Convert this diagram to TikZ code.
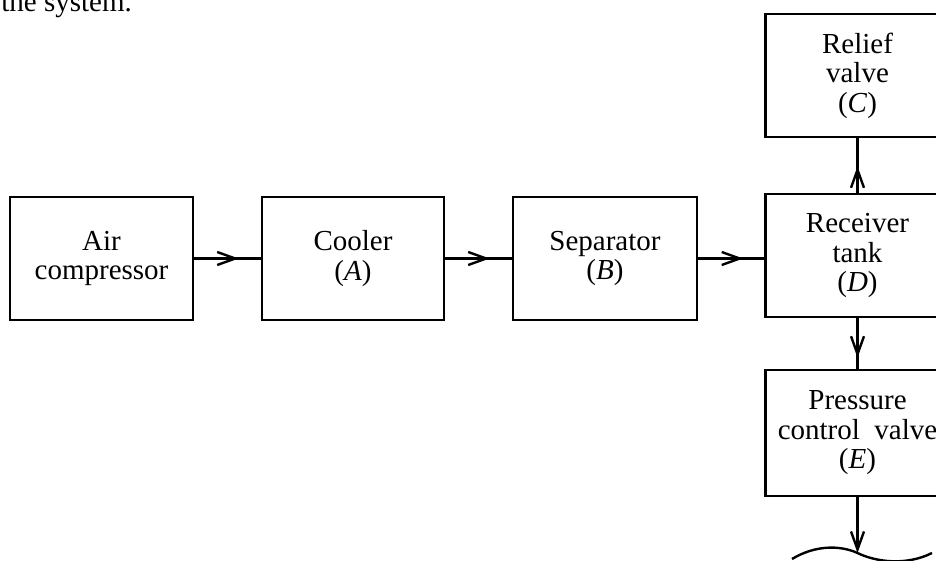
\documentclass[tikz,border=0pt]{standalone}
\usepackage{fontspec}
\setmainfont{Liberation Serif}
\usetikzlibrary{arrows.meta,decorations.markings}
\tikzset{
  barb/.tip={Straight Barb[length=18pt,width=13pt]},
}
\begin{document}
\begin{tikzpicture}[x=1pt,y=-1pt,
  txt/.style={font=\fontsize{29}{29.5}\selectfont},
  blk/.style={draw, line width=2.5pt, minimum width=184pt, minimum height=123pt,
              inner sep=0pt, align=center, txt},
  flow/.style={line width=2.4pt},
  midarrow/.style={flow, postaction={decorate, decoration={markings,
              mark=at position #1 with {\arrow{barb}}}}},
]
\useasboundingbox (0,0) rectangle (936,560);
\clip (0,0) rectangle (936,560);

% running text above the diagram
\node[txt, anchor=base east, inner sep=0pt] (caption) at (132,11.5) {the system.};

% main line of components
\node[blk, minimum width=183pt] (comp) at (101.5,258.5) {Air\\compressor};
\node[blk, minimum width=182pt] (cool) at (353,258.5) {Cooler\\(\textit{A})};
\node[blk] (sep) at (605,258.5) {Separator\\(\textit{B})};
\node[blk] (rec) at (857.5,255.5) {Receiver\\tank\\(\textit{D})};

% branch above and below the receiver
\node[blk] (relief) at (857.5,75.5) {Relief\\valve\\(\textit{C})};
\node[blk, minimum height=126pt] (pcv) at (857.5,433) {Pressure\\control\hspace{0.5em}valve\\(\textit{E})};

% connectors with arrowheads part-way along
\draw[midarrow=-22pt] (comp.east) -- (cool.west);
\draw[midarrow=-22pt] (cool.east) -- (sep.west);
\draw[midarrow=-21pt] (sep.east) -- (sep.east -| rec.west);
\draw[midarrow=-28pt] (rec.north) -- (relief.south);
\draw[midarrow=-11pt] (rec.south) -- (pcv.north);

% outlet to the service line
\coordinate (outlet) at (857.5,553);
\draw[flow, -barb] (pcv.south) -- (outlet);
\draw[flow] (792,559) .. controls (815,545) and (840,545) .. (857.5,553)
            .. controls (876,562) and (906,566) .. (932,553);
\end{tikzpicture}
\end{document}
